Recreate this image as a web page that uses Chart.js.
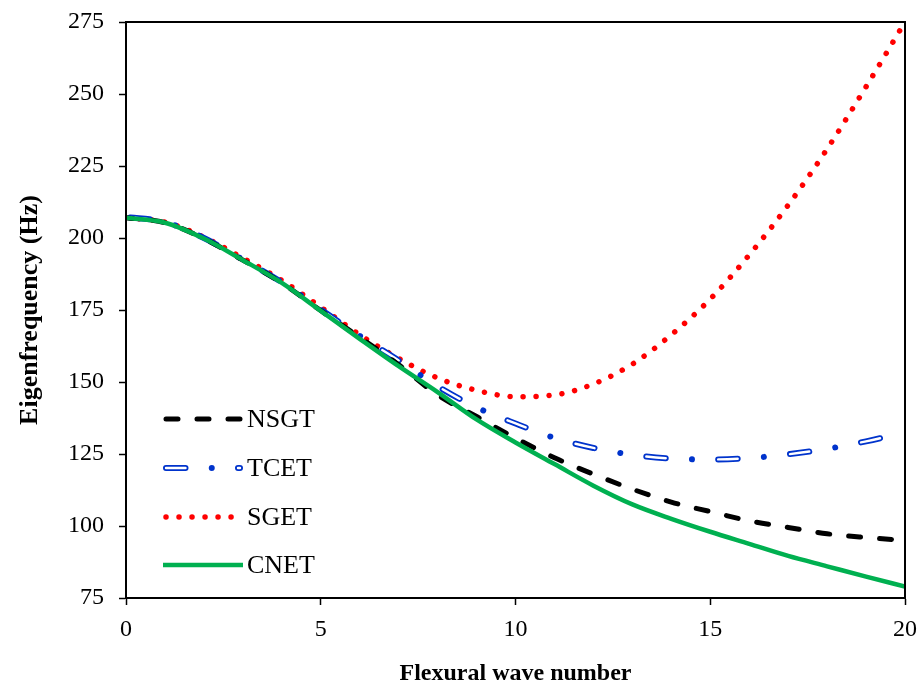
<!DOCTYPE html>
<html>
<head>
<meta charset="utf-8">
<script src="https://cdn.jsdelivr.net/npm/chart.js@4.4.1/dist/chart.umd.min.js"></script>
<style>
  html, body { margin: 0; padding: 0; background: #fff; }
  #wrap { width: 924px; height: 689px; }
</style>
</head>
<body>
<div id="wrap"><canvas id="chart" width="924" height="689"></canvas></div>
<script>
// flexural wave number (x) and eigenfrequency (Hz) for each theory
const waveNumbers = [0, 1, 2, 3, 4, 5, 6, 7, 8, 9, 10, 11, 12, 13, 14, 15, 16, 17, 18, 19, 20];
const nsgt = [207, 205.3, 199.8, 192.3, 184.4, 174.8, 165.5, 156, 145.5, 138, 130.5, 123.7, 118, 112.8, 108.3, 105, 101.8, 99.5, 97.3, 96, 95];
const tcet = [207.3, 205.5, 200, 192.5, 184.6, 175.2, 166, 157.5, 148.5, 141.2, 135.6, 130.6, 127.1, 124.7, 123.4, 123.1, 123.6, 124.9, 126.8, 129.4, 132.5];
const sget = [207, 205.5, 200.3, 193, 185.3, 176, 166.4, 158.2, 151.4, 147.1, 144.9, 145.5, 149.3, 156.2, 166.4, 178.8, 194.1, 211.4, 230.9, 252.5, 275];
const cnet = [207, 205.3, 199.8, 192.3, 184.4, 174.7, 165, 155.5, 146.5, 137, 129, 121.5, 114, 107.5, 102.5, 98, 93.8, 89.6, 86, 82.4, 79];

const xTicks = [0, 5, 10, 15, 20];
const yTicks = [75, 100, 125, 150, 175, 200, 225, 250, 275];

const BLUE = '#0033cc';
const RED = '#ff0000';
const GREEN = '#00b050';
const SERIF = '"Liberation Serif", "Times New Roman", serif';

function pts(ys) {
  return waveNumbers.map((x, i) => ({ x, y: ys[i] }));
}

// TCET is a blue dash-dot line whose dashes are hollow: a thinner white line on top
const styles = {
  NSGT:  { color: '#000', width: 5, dash: [12, 19], offset: 4.5, cap: 'round' },
  TCET:  { color: BLUE, width: 6, dash: [19.5, 26.25, 0.01, 26.24], offset: 67.75, cap: 'round' },
  TCETi: { color: '#fff', width: 2.4, dash: [19.5, 52.5], offset: 67.75, cap: 'round' },
  SGET:  { color: RED, width: 5.5, dash: [0.01, 13], offset: 0, cap: 'round' },
  CNET:  { color: GREEN, width: 4.5, dash: [], offset: 0, cap: 'butt' }
};

function ds(label, ys, st) {
  return {
    label,
    data: pts(ys),
    borderColor: st.color,
    borderWidth: st.width,
    borderDash: st.dash,
    borderDashOffset: st.offset,
    borderCapStyle: st.cap,
    pointRadius: 0,
    fill: false,
    cubicInterpolationMode: 'monotone'
  };
}

// box around the plot + legend inside the plot
const framePlugin = {
  id: 'frame',
  afterDraw(chart) {
    const { ctx, chartArea: a } = chart;
    ctx.save();
    ctx.strokeStyle = '#000';
    ctx.lineWidth = 2;
    ctx.strokeRect(a.left, a.top, a.right - a.left, a.bottom - a.top);

    const rows = [
      ['NSGT', ['NSGT'], 419],
      ['TCET', ['TCET', 'TCETi'], 468],
      ['SGET', ['SGET'], 517],
      ['CNET', ['CNET'], 565]
    ];
    rows.forEach(([name, keys, y]) => {
      keys.forEach(k => {
        const st = styles[k];
        ctx.beginPath();
        ctx.strokeStyle = st.color;
        ctx.lineWidth = st.width;
        ctx.lineCap = st.cap;
        ctx.setLineDash(st.dash);
        ctx.lineDashOffset = 0;
        const x0 = k === 'CNET' ? 163 : 166;
        ctx.moveTo(x0, y);
        ctx.lineTo(k === 'CNET' ? 243 : 240, y);
        ctx.stroke();
      });
      ctx.setLineDash([]);
      ctx.fillStyle = '#000';
      ctx.font = '26px ' + SERIF;
      ctx.textBaseline = 'middle';
      ctx.fillText(name, 247, y + 1);
    });
    ctx.restore();
  }
};

new Chart(document.getElementById('chart'), {
  type: 'line',
  data: {
    datasets: [
      ds('CNET', cnet, styles.CNET),
      ds('NSGT', nsgt, styles.NSGT),
      ds('TCET-inner', tcet, styles.TCETi),
      ds('TCET', tcet, styles.TCET),
      ds('SGET', sget, styles.SGET)
    ]
  },
  options: {
    responsive: false,
    animation: false,
    layout: { padding: { top: 22, right: 19, left: 0, bottom: 0 } },
    plugins: { legend: { display: false }, tooltip: { enabled: false } },
    scales: {
      x: {
        type: 'linear',
        min: 0,
        max: 20,
        afterFit: s => { s.height = 91; s.paddingLeft = 0; s.paddingRight = 0; },
        afterBuildTicks: s => { s.ticks = xTicks.map(v => ({ value: v })); },
        grid: { drawOnChartArea: false, color: '#000', tickLength: 7, tickWidth: 1.5 },
        border: { color: '#000', width: 2 },
        ticks: { color: '#000', padding: 10, maxRotation: 0, font: { family: SERIF, size: 24 } },
        title: {
          display: true,
          text: 'Flexural wave number',
          color: '#000',
          padding: { top: 0, bottom: 1 },
          font: { family: SERIF, size: 24, weight: 'bold' }
        }
      },
      y: {
        min: 75,
        max: 275,
        afterFit: s => { s.width = 126; s.paddingTop = 0; s.paddingBottom = 0; },
        afterBuildTicks: s => { s.ticks = yTicks.map(v => ({ value: v })); },
        grid: { drawOnChartArea: false, color: '#000', tickLength: 7, tickWidth: 1.5 },
        border: { color: '#000', width: 2 },
        ticks: { color: '#000', padding: 15, font: { family: SERIF, size: 24 } },
        title: {
          display: true,
          text: 'Eigenfrequency (Hz)',
          color: '#000',
          padding: { top: 15, bottom: 0 },
          font: { family: SERIF, size: 26, weight: 'bold' }
        }
      }
    }
  },
  plugins: [framePlugin]
});
</script>
</body>
</html>
